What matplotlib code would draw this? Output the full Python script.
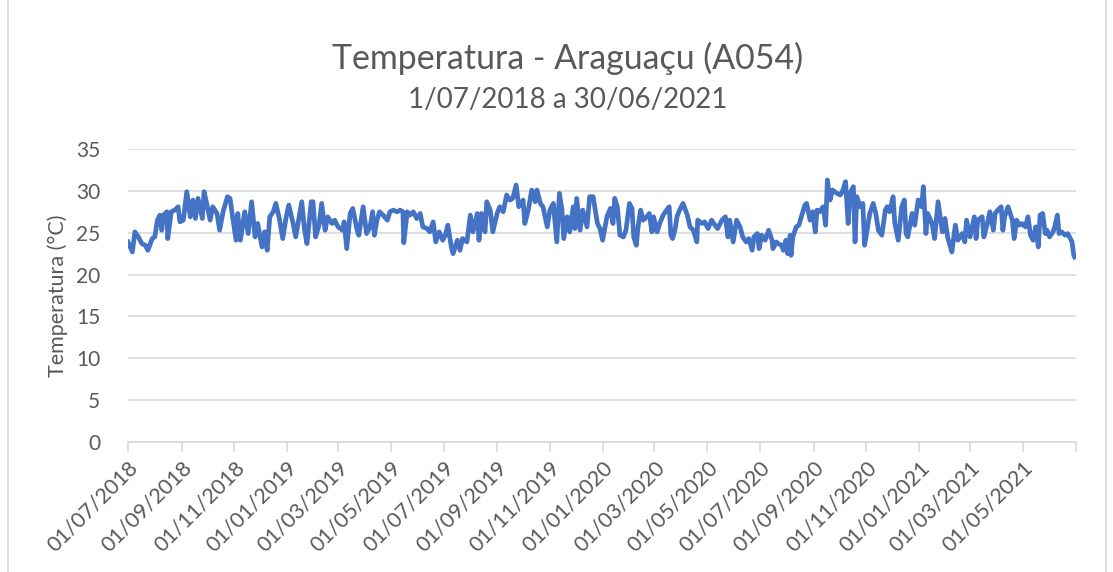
import pandas as pd
import matplotlib.pyplot as plt
from matplotlib.patches import Rectangle

# dias desde 01/07/2018 e temperatura
dias = [0, 5, 8, 12, 16, 20, 23, 28, 31, 34, 37, 39, 41, 45, 46, 50, 54, 58, 60, 64,
        68, 72, 75, 78, 81, 86, 88, 91, 95, 98, 103, 106, 110, 115, 118, 121, 125, 127, 130, 135,
        139, 143, 147, 150, 155, 158, 161, 164, 168, 171, 175, 179, 183, 186, 191, 194, 197, 201, 204, 207,
        212, 214, 217, 221, 224, 228, 231, 236, 239, 243, 248, 250, 253, 257, 260, 265, 267, 272, 276, 280,
        283, 285, 288, 291, 295, 300, 303, 307, 311, 315, 318, 319, 323, 326, 330, 334, 338, 341, 346, 349,
        353, 356, 360, 364, 367, 370, 374, 376, 381, 384, 387, 392, 396, 399, 404, 406, 409, 413, 415, 419,
        422, 427, 430, 434, 438, 442, 445, 449, 452, 457, 459, 463, 467, 471, 473, 477, 480, 485, 488, 492,
        496, 499, 502, 504, 508, 511, 515, 517, 519, 523, 526, 531, 534, 538, 543, 546, 549, 554, 558, 561,
        563, 566, 569, 573, 576, 580, 583, 585, 588, 590, 593, 596, 600, 603, 606, 608, 612, 615, 619, 623,
        626, 628, 630, 633, 635, 638, 642, 647, 650, 654, 658, 659, 664, 667, 671, 675, 679, 682, 687, 691,
        694, 696, 700, 704, 708, 711, 715, 718, 722, 724, 728, 730, 733, 737, 741, 745, 746, 750, 752, 756,
        758, 761, 763, 766, 767, 769, 773, 776, 780, 783, 785, 789, 792, 795, 797, 800, 804, 807, 809, 812,
        815, 820, 824, 827, 830, 833, 835, 839, 841, 843, 847, 850, 852, 855, 858, 862, 865, 868, 872, 876,
        878, 881, 885, 887, 891, 895, 898, 900, 902, 907, 910, 914, 918, 920, 923, 925, 930, 933, 937, 942,
        945, 948, 953, 957, 960, 965, 968, 970, 974, 979, 981, 983, 988, 990, 994, 997, 1001, 1003, 1006, 1010,
        1012, 1014, 1018, 1023, 1025, 1028, 1031, 1034, 1038, 1041, 1044, 1047, 1050, 1053, 1055, 1058, 1061, 1063, 1066, 1070,
        1072, 1075, 1077, 1080, 1084, 1087, 1092, 1094, 1095]
temp = [23.9, 22.7, 25.1, 24.5, 23.7, 23.5, 22.9, 24.3, 24.5, 26.5, 27.1, 25.3, 27.1, 27.5, 24.3, 27.5, 27.7, 28.1, 26.3, 26.5,
        29.9, 26.9, 28.9, 26.7, 29.1, 26.7, 29.9, 28.5, 26.5, 28.1, 27.3, 25.3, 27.5, 29.3, 29.1, 26.9, 24.1, 27.3, 24.1, 27.5,
        24.9, 28.7, 24.5, 26.1, 23.3, 25.1, 22.9, 26.9, 27.5, 28.5, 26.7, 24.3, 26.9, 28.3, 26.1, 24.5, 26.3, 28.7, 25.5, 23.7,
        28.7, 28.7, 24.5, 25.9, 28.5, 25.3, 26.9, 26.1, 26.5, 25.7, 25.3, 26.3, 23.1, 27.3, 27.9, 25.3, 24.7, 28.1, 24.9, 25.7,
        27.5, 24.7, 26.5, 27.5, 27.1, 26.5, 27.5, 27.7, 27.5, 27.7, 27.5, 23.8, 27.5, 27.1, 27.5, 26.7, 27.3, 25.7, 25.5, 25.1,
        26.3, 23.9, 25.1, 24.1, 24.7, 25.9, 23.3, 22.5, 24.1, 22.9, 24.3, 23.9, 27.1, 25.1, 27.3, 24.1, 27.3, 25.1, 28.7, 27.7,
        25.1, 27.3, 28.1, 27.5, 29.5, 28.9, 29.1, 30.7, 28.1, 28.9, 26.1, 27.7, 30.1, 28.7, 30.1, 28.5, 28.1, 25.7, 27.7, 28.5,
        23.9, 29.7, 27.7, 24.3, 26.9, 25.1, 28.1, 25.5, 29.1, 25.3, 27.7, 25.7, 29.3, 29.3, 26.1, 25.5, 24.1, 26.9, 27.9, 26.1,
        29.1, 28.1, 24.7, 24.5, 25.3, 28.5, 27.9, 24.5, 23.5, 25.7, 27.7, 26.5, 26.9, 27.3, 25.1, 26.9, 25.1, 26.1, 27.1, 27.7,
        28.1, 24.7, 24.3, 25.5, 26.9, 27.7, 28.5, 27.1, 25.7, 25.3, 23.9, 26.5, 26.1, 26.3, 25.5, 26.5, 25.9, 25.5, 26.5, 26.9,
        24.5, 26.5, 23.9, 26.5, 25.7, 24.5, 23.9, 24.3, 22.9, 24.5, 24.9, 23.1, 24.7, 24.1, 25.3, 24.1, 23.1, 23.9, 23.7, 23.5,
        22.9, 24.1, 22.5, 24.7, 22.3, 24.5, 25.7, 25.9, 27.3, 28.3, 28.5, 26.5, 27.5, 25.1, 27.7, 27.5, 28.1, 25.9, 31.3, 28.9,
        30.1, 29.7, 29.5, 30.1, 31.1, 26.1, 29.7, 30.5, 23.9, 29.3, 28.1, 28.5, 23.5, 25.3, 27.3, 28.5, 27.3, 25.3, 24.7, 27.7,
        28.1, 27.5, 29.3, 26.1, 24.1, 28.1, 28.9, 24.9, 24.5, 27.3, 25.9, 28.9, 28.1, 30.5, 24.9, 27.3, 26.1, 24.3, 28.7, 25.1,
        26.7, 24.5, 22.7, 25.9, 24.1, 24.9, 23.9, 26.5, 24.5, 26.9, 24.3, 26.5, 26.9, 24.5, 26.1, 27.5, 25.3, 27.3, 27.7, 28.1,
        25.3, 26.9, 28.1, 26.5, 24.3, 26.5, 25.9, 26.1, 25.7, 26.9, 24.7, 24.1, 25.7, 23.3, 27.1, 27.3, 24.9, 25.3, 24.5, 25.1,
        25.7, 27.1, 24.9, 25.1, 24.7, 24.9, 23.9, 22.3, 22.1]

inicio = pd.Timestamp('2018-07-01')
datas = inicio + pd.to_timedelta(dias, unit='D')

ticks = pd.date_range('2018-07-01', '2021-07-01', freq='2MS')
tick_labels = [t.strftime('%d/%m/%Y') for t in ticks]
tick_labels[-1] = ''

cinza = '#595959'
linha = '#D9D9D9'

plt.rcParams['font.family'] = ['Lato', 'DejaVu Sans']

fig = plt.figure(figsize=(11.13, 5.72), dpi=100)
ax = fig.add_axes([128 / 1113, 1 - 442 / 572, (1075.5 - 128) / 1113, (442 - 149) / 572])

ax.plot(datas, temp, color='#4472C4', lw=3.4, solid_joinstyle='round')

ax.set_ylim(0, 35)
ax.set_yticks(range(0, 36, 5))
ax.set_xlim(inicio, pd.Timestamp('2021-07-01'))
ax.set_xticks(ticks)
ax.set_xticklabels(tick_labels, rotation=45, ha='right', rotation_mode='anchor')

ax.grid(axis='y', color=linha, lw=1.2)
ax.set_axisbelow(True)
for s in ['left', 'right', 'top']:
    ax.spines[s].set_visible(False)
ax.spines['bottom'].set_color(linha)
ax.spines['bottom'].set_linewidth(1.2)
ax.tick_params(axis='y', length=0, pad=20, labelsize=15, labelcolor=cinza)
ax.tick_params(axis='x', length=7, color=linha, width=1.2, pad=4, labelsize=15.5, labelcolor=cinza)

ax.set_ylabel('Temperatura (°C)', fontsize=15.5, color=cinza, labelpad=6)

fig.text(0.51, 1 - 58 / 572, 'Temperatura - Araguaçu (A054)', ha='center', va='center',
         fontsize=24.4, color=cinza)
fig.text(0.51, 1 - 100 / 572, '1/07/2018 a 30/06/2021', ha='center', va='center',
         fontsize=20, color=cinza)

fig.patches.append(Rectangle((8 / 1113, -0.02), 1098 / 1113, 1.04, transform=fig.transFigure,
                             fill=False, edgecolor=linha, lw=1.2))

fig.savefig('out.png', dpi=100, facecolor='white')
